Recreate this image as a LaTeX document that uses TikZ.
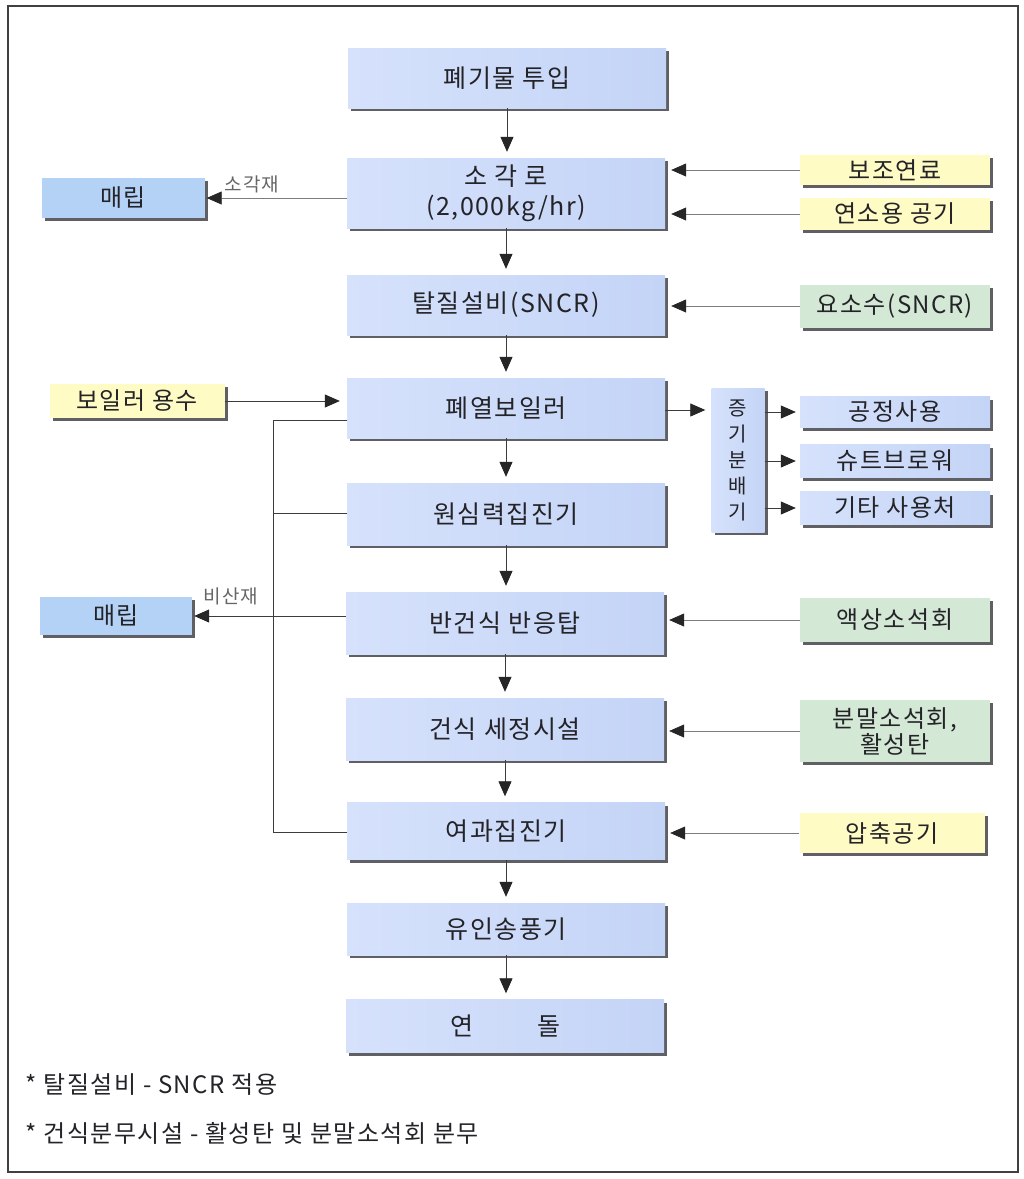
\documentclass[tikz,border=0pt]{standalone}
\usepackage{fontspec}
\setmainfont{Noto Sans CJK KR}[LetterSpace=6]
\usetikzlibrary{arrows.meta,shadows}
\definecolor{blueL}{RGB}{214,226,252}
\definecolor{blueR}{RGB}{196,212,246}
\definecolor{maeblue}{RGB}{180,210,246}
\definecolor{yelbox}{RGB}{255,251,196}
\definecolor{grnbox}{RGB}{212,232,214}
\definecolor{shd}{RGB}{95,95,100}
\definecolor{linedark}{RGB}{60,60,60}
\definecolor{linelight}{RGB}{125,125,125}
\definecolor{txt}{RGB}{35,35,40}
\begin{document}
\begin{tikzpicture}[x=1pt,y=-1pt,
  sh/.style={general shadow={fill=shd, shadow xshift=3pt, shadow yshift=-3pt}},
  mainbox/.style={rectangle, sh, left color=blueL, right color=blueR, minimum width=318pt, inner sep=0pt, font=\fontsize{25}{30}\selectfont, text=txt, align=center},
  maebox/.style={rectangle, sh, fill=maeblue, inner sep=0pt, font=\fontsize{24}{26}\selectfont, text=txt},
  sidebox/.style={rectangle, sh, inner sep=0pt, minimum width=190pt, font=\fontsize{24}{27}\selectfont, text=txt, align=center},
  ybox/.style={sidebox, fill=yelbox},
  gbox/.style={sidebox, fill=grnbox},
  bbox/.style={sidebox, left color=blueL, right color=blueR},
  tip/.style={-{Triangle[length=15pt,width=13pt,color=black!85]}},
  flow/.style={draw=linedark, line width=0.8pt, tip},
  feed/.style={draw=linelight, line width=0.7pt, tip},
  plain/.style={draw=linedark, line width=1pt},
  lbl/.style={font=\fontsize{19}{21}\selectfont, text=black!60},
  note/.style={font=\fontsize{24}{28}\selectfont, text=txt, anchor=west}
]
\useasboundingbox (0,0) rectangle (1024,1179);
\fill[white] (0,0) rectangle (1024,1179);
\draw[line width=2pt, draw=black!75] (8,6) rectangle (1018,1172);

% main column
\node[mainbox, minimum height=60pt] (waste) at (507,78) {폐기물 투입};
\node[mainbox, minimum height=70pt] (inc) at (506,193) {소 각 로\\(2,000kg/hr)};
\node[mainbox, minimum height=60pt] (sncr) at (506,305) {탈질설비(SNCR)};
\node[mainbox, minimum height=60pt] (boiler) at (506,408) {폐열보일러};
\node[mainbox, minimum height=62pt] (cyc) at (506,514) {원심력집진기};
\node[mainbox, minimum height=62pt] (semi) at (505,623) {반건식 반응탑};
\node[mainbox, minimum height=62pt] (dry) at (505,729) {건식 세정시설};
\node[mainbox, minimum height=57pt] (bag) at (506,831) {여과집진기};
\node[mainbox, minimum height=52pt] (fan) at (506,929) {유인송풍기};
\node[mainbox, minimum height=53pt] (stack) at (505,1026) {연\hspace{64pt}돌};

% left boxes
\node[maebox, minimum width=163pt, minimum height=40pt] (mae1) at (123,198) {매립};
\node[maebox, minimum width=152pt, minimum height=38pt] (mae2) at (116,616) {매립};
\node[ybox, minimum width=175pt, minimum height=34pt] (bw) at (137,401) {보일러 용수};

% right boxes
\node[ybox, minimum height=30pt] (aux) at (895,170) {보조연료};
\node[ybox, minimum height=32pt] (air) at (895,214) {연소용 공기};
\node[gbox, minimum height=43pt] (urea) at (895,306) {요소수(SNCR)};
\node[bbox, minimum width=53pt, minimum height=144pt, font=\fontsize{20}{26}\selectfont] (steam) at (738,460) {증\\기\\분\\배\\기};
\node[bbox, minimum height=31pt] (proc) at (895,412) {공정사용};
\node[bbox, minimum height=33pt] (soot) at (895,461) {슈트브로워};
\node[bbox, minimum height=33pt] (etc) at (895,508) {기타 사용처};
\node[gbox, minimum height=44pt] (lime) at (895,620) {액상소석회};
\node[gbox, minimum height=62pt, font=\fontsize{24}{26}\selectfont] (pac) at (895,731) {분말소석회,\\활성탄};
\node[ybox, minimum width=185pt, minimum height=40pt] (comp) at (892,833) {압축공기};

% main flow arrows
\foreach \a/\b in {waste/inc, inc/sncr, sncr/boiler, boiler/cyc, cyc/semi, semi/dry, dry/bag, bag/fan, fan/stack}
  \draw[flow, shorten >=6pt] (\a.south) -- (\a.south |- \b.north);

% feeds from right
\draw[feed, shorten >=6pt] (aux.west) -- (aux.west -| inc.east);
\draw[feed, shorten >=6pt] (air.west) -- (air.west -| inc.east);
\draw[feed, shorten >=6pt] (urea.west) -- (urea.west -| sncr.east);
\draw[feed, shorten >=5pt] (lime.west) -- (lime.west -| semi.east);
\draw[feed, shorten >=5pt] (pac.west) -- (pac.west -| dry.east);
\draw[feed, shorten >=5pt] (comp.west) -- (comp.west -| bag.east);

% to landfill
\draw[feed, shorten >=2pt] (mae1.east -| inc.west) -- (mae1.east);
\node[lbl] (sokak) at (252,184) {소각재};
\draw[flow, shorten >=2pt] (mae2.east -| semi.west) -- (mae2.east);
\node[lbl] (bisan) at (231,596) {비산재};

% boiler water
\draw[flow, shorten >=7pt] (bw.east) -- (bw.east -| boiler.west);

% left collection line
\coordinate (lp1) at (273,420);
\coordinate (lp2) at (273,513);
\coordinate (lp3) at (273,832);
\draw[plain] (lp1 -| boiler.west) -- (lp1) -- (lp3) -- (lp3 -| bag.west);
\draw[plain] (lp2) -- (lp2 -| cyc.west);

% steam distribution
\coordinate (st) at (0,410);
\draw[flow, shorten >=6pt] (st -| boiler.east) -- (st -| steam.west);
\draw[flow, shorten >=4pt] (proc.west -| steam.east) -- (proc.west);
\draw[flow, shorten >=4pt] (soot.west -| steam.east) -- (soot.west);
\draw[flow, shorten >=4pt] (etc.west -| steam.east) -- (etc.west);

% notes
\node[note] (n1) at (22,1085) {* 탈질설비 - SNCR 적용};
\node[note] (n2) at (22,1133) {* 건식분무시설 - 활성탄 및 분말소석회 분무};
\end{tikzpicture}
\end{document}
